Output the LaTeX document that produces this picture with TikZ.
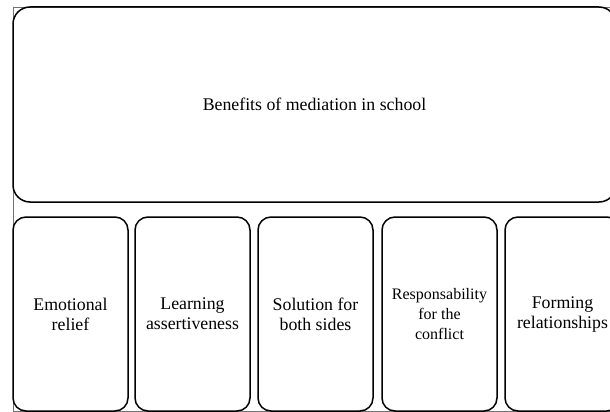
\documentclass[tikz,border=0pt]{standalone}
\usepackage{fontspec}
\setmainfont{Liberation Serif}
\begin{document}
\begin{tikzpicture}[x=1pt,y=-1pt,
  bigbox/.style={draw=black, line width=1.5pt, rounded corners=17pt, inner sep=0pt,
    minimum width=603pt, minimum height=195pt, align=center,
    font=\fontsize{17.8}{20}\selectfont},
  itembox/.style={draw=black, line width=1.5pt, rounded corners=13pt, inner sep=0pt,
    minimum width=115pt, minimum height=194pt, align=center,
    font=\fontsize{17.8}{20}\selectfont},
  frameline/.style={draw=black!55, line width=0.7pt}]
\useasboundingbox (0,0) rectangle (610,412);
\draw[frameline] (13,7) rectangle (625,411);
\node[bigbox] (top) at (314.5,104.5) {Benefits of mediation in school};
\node[itembox] (b1) at (70.5,314) {Emotional\\relief};
\node[itembox] (b2) at (192.5,314) {Learning\\assertiveness};
\node[itembox] (b3) at (315.5,314) {Solution for\\both sides};
\node[itembox, font=\fontsize{16}{20}\selectfont] (b4) at (439.5,314) {Responsability\\for the\\conflict};
\node[itembox] (b5) at (562.5,314) {Forming\\relationships};
\end{tikzpicture}
\end{document}
